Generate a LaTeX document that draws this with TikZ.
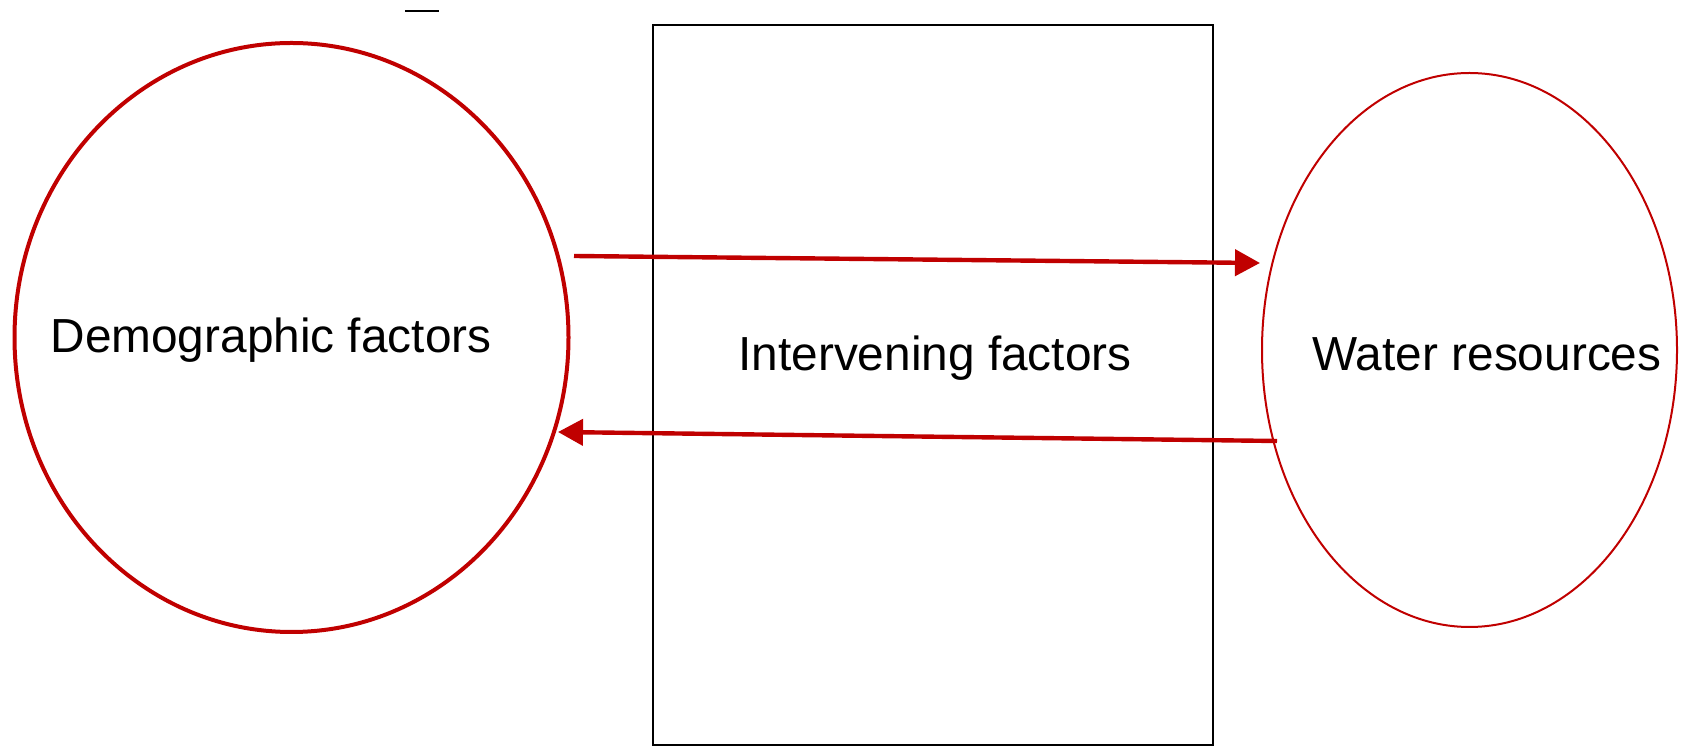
\documentclass[tikz,border=0pt]{standalone}
\usepackage{fontspec}
\setmainfont{Liberation Sans}
\usetikzlibrary{arrows.meta,shapes.geometric}
\definecolor{dred}{RGB}{192,0,0}
\begin{document}
\begin{tikzpicture}[x=0.5pt,y=-0.5pt,
  lbl/.style={font=\fontsize{23.9pt}{28pt}\selectfont, inner sep=0pt, anchor=base},
  circ/.style={ellipse, draw=dred, inner sep=0pt, outer sep=0pt},
  arr/.style={draw=dred, line width=2.2pt, -{Triangle[length=12.5pt,width=13pt]}}]
\useasboundingbox (0,0) rectangle (1682,747);
% shapes
\node[circ, line width=2pt, minimum width=277pt, minimum height=294.5pt] (demo) at (291.5,337.5) {};
\node[circ, line width=1pt, minimum width=207.5pt, minimum height=277pt] (water) at (1469.5,350) {};
\node[draw=black, line width=0.9pt, inner sep=0pt, minimum width=280pt, minimum height=360pt] (box) at (933,385) {};
% labels
\node[lbl] (demotxt) at (271,353) {Demographic factors};
\node[lbl] (boxtxt) at (935,371) {Intervening factors};
\node[lbl] (watertxt) at (1487,371) {Water resources};
% arrow end points
\coordinate (a1s) at (574,256);
\coordinate (a1e) at (1260,263);
\coordinate (a2s) at (1277,441);
\coordinate (a2e) at (558,432);
\draw[arr] (a1s) -- (a1e);
\draw[arr] (a2s) -- (a2e);
% small dash at top
\coordinate (d1) at (405,11);
\coordinate (d2) at (439,11);
\draw[black, line width=1pt] (d1) -- (d2);
\end{tikzpicture}
\end{document}
